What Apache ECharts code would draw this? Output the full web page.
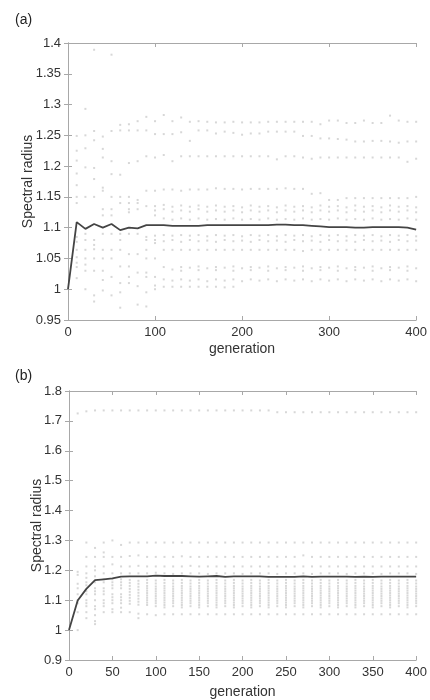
<!DOCTYPE html>
<html>
<head>
<meta charset="utf-8">
<script src="https://cdn.jsdelivr.net/npm/echarts@6/dist/echarts.min.js"></script>
<style>
html,body{margin:0;padding:0;background:#fff;}
#chart{width:430px;height:700px;}
</style>
</head>
<body>
<div id="chart"></div>
<script>
// generations at which population dots are drawn
const dotGens = [10,20,30,40,50,60,70,80,90,100,110,120,130,140,150,160,170,180,190,200,
                 210,220,230,240,250,260,270,280,290,300,310,320,330,340,350,360,370,380,390,400];
// mean line generations
const lineGens = [0,10,20,30,40,50,60,70,80,90,100,110,120,130,140,150,160,170,180,190,200,
                  210,220,230,240,250,260,270,280,290,300,310,320,330,340,350,360,370,380,390,400];
// panel (a) mean spectral radius
const lineA = [1.0,1.109,1.098,1.106,1.100,1.106,1.096,1.100,1.099,1.104,1.104,1.104,1.103,1.103,1.103,1.103,1.104,1.104,1.104,1.104,1.104,
               1.104,1.104,1.104,1.105,1.105,1.104,1.104,1.103,1.102,1.101,1.101,1.101,1.100,1.100,1.101,1.101,1.101,1.101,1.100,1.097];
// panel (b) mean spectral radius
const lineB = [1.0,1.099,1.138,1.167,1.170,1.173,1.179,1.180,1.180,1.180,1.182,1.181,1.181,1.181,1.180,1.179,1.180,1.181,1.178,1.180,1.180,
               1.180,1.180,1.178,1.178,1.178,1.178,1.180,1.178,1.179,1.179,1.179,1.179,1.178,1.179,1.178,1.179,1.179,1.179,1.179,1.179];
// panel (a) population values per generation (same order as dotGens)
const dotsA = [
 [1.249,1.225,1.209,1.188,1.169,1.15,1.14,1.085,1.077,1.064,1.052,1.043,1.036,1.018],
 [1.293,1.25,1.229,1.198,1.15,1.09,1.08,1.064,1.05,1.04,1.03,1.0],
 [1.389,1.257,1.242,1.197,1.179,1.15,1.08,1.072,1.065,1.05,1.03,0.99,0.98],
 [1.248,1.228,1.214,1.165,1.16,1.13,1.12,1.09,1.064,1.05,1.03,1.015,0.998],
 [1.381,1.257,1.208,1.187,1.15,1.13,1.12,1.09,1.064,1.05,1.02,0.99],
 [1.267,1.258,1.186,1.15,1.14,1.09,1.08,1.064,1.037,1.01,0.995,0.97],
 [1.268,1.258,1.205,1.15,1.14,1.13,1.125,1.09,1.057,1.037,1.02,1.01],
 [1.273,1.258,1.208,1.145,1.14,1.13,1.09,1.057,1.027,1.005,0.975],
 [1.28,1.258,1.216,1.16,1.135,1.085,1.08,1.064,1.05,1.027,1.02,0.995,0.972],
 [1.273,1.252,1.214,1.16,1.135,1.128,1.12,1.087,1.08,1.075,1.05,1.02,1.006,1.0],
 [1.283,1.252,1.218,1.162,1.137,1.13,1.115,1.088,1.078,1.064,1.036,1.016,1.004],
 [1.273,1.252,1.208,1.162,1.134,1.126,1.113,1.087,1.08,1.064,1.032,1.014,1.004],
 [1.279,1.255,1.216,1.16,1.136,1.128,1.115,1.088,1.077,1.064,1.036,1.03,1.016,1.004],
 [1.272,1.241,1.216,1.162,1.134,1.126,1.113,1.087,1.08,1.064,1.035,1.014,1.004],
 [1.273,1.258,1.216,1.162,1.136,1.13,1.115,1.088,1.078,1.064,1.037,1.031,1.016,1.004],
 [1.272,1.258,1.216,1.162,1.134,1.126,1.113,1.086,1.079,1.064,1.034,1.013,1.004],
 [1.271,1.253,1.216,1.164,1.136,1.128,1.114,1.088,1.077,1.064,1.036,1.031,1.016,1.004],
 [1.271,1.256,1.216,1.163,1.134,1.126,1.113,1.087,1.08,1.064,1.035,1.014,1.003],
 [1.272,1.254,1.216,1.163,1.135,1.128,1.115,1.088,1.078,1.064,1.037,1.03,1.016,1.004],
 [1.271,1.251,1.216,1.162,1.133,1.125,1.113,1.086,1.079,1.064,1.034,1.013],
 [1.271,1.253,1.216,1.163,1.136,1.128,1.114,1.088,1.077,1.064,1.036,1.031,1.016],
 [1.271,1.253,1.216,1.163,1.134,1.126,1.113,1.087,1.08,1.064,1.035,1.014],
 [1.272,1.256,1.216,1.163,1.135,1.128,1.115,1.088,1.078,1.064,1.037,1.03,1.016],
 [1.272,1.256,1.211,1.163,1.133,1.125,1.113,1.086,1.079,1.064,1.034,1.013],
 [1.272,1.256,1.216,1.164,1.136,1.128,1.114,1.088,1.077,1.064,1.036,1.031,1.016],
 [1.272,1.256,1.216,1.163,1.134,1.126,1.113,1.087,1.08,1.064,1.035,1.014],
 [1.272,1.249,1.214,1.163,1.135,1.128,1.115,1.088,1.078,1.062,1.037,1.03,1.016],
 [1.272,1.249,1.212,1.155,1.133,1.125,1.113,1.086,1.079,1.064,1.034,1.013],
 [1.268,1.245,1.214,1.156,1.136,1.128,1.114,1.088,1.077,1.064,1.036,1.031,1.016],
 [1.274,1.245,1.214,1.145,1.134,1.126,1.113,1.087,1.08,1.064,1.035,1.014],
 [1.274,1.244,1.214,1.145,1.135,1.128,1.115,1.088,1.078,1.064,1.037,1.03,1.016],
 [1.27,1.243,1.214,1.148,1.133,1.125,1.113,1.086,1.079,1.064,1.034,1.013],
 [1.27,1.24,1.214,1.148,1.136,1.128,1.114,1.088,1.077,1.064,1.036,1.031,1.016],
 [1.274,1.24,1.214,1.148,1.134,1.126,1.113,1.087,1.08,1.064,1.035,1.014],
 [1.27,1.241,1.214,1.148,1.135,1.128,1.115,1.088,1.078,1.064,1.037,1.03,1.016],
 [1.27,1.241,1.214,1.148,1.133,1.125,1.113,1.086,1.079,1.064,1.034,1.013],
 [1.282,1.24,1.214,1.148,1.136,1.128,1.114,1.088,1.077,1.064,1.036,1.031,1.016],
 [1.274,1.238,1.214,1.148,1.134,1.126,1.113,1.087,1.08,1.064,1.035,1.014],
 [1.272,1.24,1.207,1.148,1.135,1.128,1.115,1.088,1.078,1.064,1.037,1.03,1.016],
 [1.272,1.24,1.212,1.15,1.133,1.125,1.113,1.086,1.079,1.064,1.034,1.013]
];
// panel (b) population values per generation (same order as dotGens)
const dotsB = [
 [1.725,1.195,1.185,1.155,1.14,1.12,1.1,1.09,1.06,1.0],
 [1.732,1.293,1.245,1.213,1.19,1.175,1.16,1.15,1.13,1.12,1.1,1.09,1.08,1.06,1.04],
 [1.735,1.275,1.245,1.213,1.2,1.18,1.16,1.14,1.13,1.12,1.1,1.08,1.07,1.05,1.03,1.02],
 [1.735,1.293,1.26,1.245,1.213,1.19,1.17,1.16,1.14,1.13,1.12,1.1,1.09,1.08,1.06],
 [1.735,1.3,1.245,1.22,1.19,1.17,1.16,1.15,1.14,1.12,1.11,1.1,1.09,1.07,1.06],
 [1.735,1.285,1.245,1.213,1.19,1.17,1.16,1.15,1.14,1.12,1.11,1.1,1.09,1.075,1.06],
 [1.735,1.293,1.248,1.213,1.19,1.168,1.158,1.148,1.138,1.128,1.118,1.108,1.098,1.088,1.06],
 [1.735,1.293,1.25,1.215,1.19,1.165,1.155,1.145,1.135,1.125,1.115,1.105,1.095,1.085,1.055,1.04],
 [1.735,1.293,1.245,1.213,1.19,1.168,1.158,1.148,1.14,1.132,1.124,1.116,1.108,1.1,1.092,1.084,1.053],
 [1.735,1.293,1.245,1.213,1.192,1.166,1.156,1.146,1.138,1.13,1.122,1.114,1.106,1.098,1.09,1.08,1.05],
 [1.735,1.293,1.245,1.213,1.19,1.168,1.158,1.148,1.14,1.132,1.124,1.116,1.108,1.1,1.092,1.084,1.076,1.053],
 [1.735,1.293,1.245,1.213,1.188,1.166,1.156,1.146,1.138,1.13,1.122,1.114,1.106,1.098,1.09,1.08,1.053],
 [1.735,1.293,1.247,1.213,1.19,1.168,1.158,1.148,1.14,1.132,1.124,1.116,1.108,1.1,1.092,1.084,1.076,1.053],
 [1.735,1.293,1.245,1.215,1.19,1.166,1.156,1.146,1.138,1.13,1.122,1.114,1.106,1.098,1.09,1.08,1.053],
 [1.735,1.293,1.245,1.213,1.19,1.168,1.158,1.148,1.14,1.132,1.124,1.116,1.108,1.1,1.092,1.084,1.076,1.053],
 [1.735,1.293,1.245,1.213,1.188,1.166,1.156,1.146,1.138,1.13,1.122,1.114,1.106,1.098,1.09,1.08,1.053],
 [1.735,1.293,1.245,1.213,1.19,1.168,1.158,1.148,1.14,1.132,1.124,1.116,1.108,1.1,1.092,1.084,1.076,1.053],
 [1.735,1.293,1.245,1.213,1.19,1.166,1.156,1.146,1.138,1.13,1.122,1.114,1.106,1.098,1.09,1.08,1.053],
 [1.735,1.293,1.245,1.213,1.19,1.168,1.158,1.148,1.14,1.132,1.124,1.116,1.108,1.1,1.092,1.084,1.076,1.053],
 [1.735,1.293,1.245,1.213,1.188,1.166,1.156,1.146,1.138,1.13,1.122,1.114,1.106,1.098,1.09,1.08,1.053],
 [1.735,1.293,1.245,1.213,1.19,1.168,1.158,1.148,1.14,1.132,1.124,1.116,1.108,1.1,1.092,1.084,1.076,1.053],
 [1.735,1.293,1.245,1.213,1.19,1.166,1.156,1.146,1.138,1.13,1.122,1.114,1.106,1.098,1.09,1.08,1.053],
 [1.735,1.293,1.245,1.213,1.19,1.168,1.158,1.148,1.14,1.132,1.124,1.116,1.108,1.1,1.092,1.084,1.076,1.053],
 [1.729,1.293,1.245,1.213,1.188,1.166,1.156,1.146,1.138,1.13,1.122,1.114,1.106,1.098,1.09,1.08,1.053],
 [1.729,1.293,1.245,1.213,1.19,1.168,1.158,1.148,1.14,1.132,1.124,1.116,1.108,1.1,1.092,1.084,1.076,1.053],
 [1.729,1.293,1.245,1.213,1.19,1.166,1.156,1.146,1.138,1.13,1.122,1.114,1.106,1.098,1.09,1.08,1.053],
 [1.729,1.293,1.25,1.213,1.19,1.168,1.158,1.148,1.14,1.132,1.124,1.116,1.108,1.1,1.092,1.084,1.076,1.053],
 [1.729,1.293,1.245,1.213,1.188,1.166,1.156,1.146,1.138,1.13,1.122,1.114,1.106,1.098,1.09,1.08,1.053],
 [1.729,1.293,1.245,1.213,1.19,1.168,1.158,1.148,1.14,1.132,1.124,1.116,1.108,1.1,1.092,1.084,1.076,1.053],
 [1.729,1.293,1.245,1.213,1.19,1.166,1.156,1.146,1.138,1.13,1.122,1.114,1.106,1.098,1.09,1.08,1.053],
 [1.729,1.293,1.245,1.213,1.19,1.168,1.158,1.148,1.14,1.132,1.124,1.116,1.108,1.1,1.092,1.084,1.076,1.053],
 [1.729,1.293,1.245,1.213,1.188,1.166,1.156,1.146,1.138,1.13,1.122,1.114,1.106,1.098,1.09,1.08,1.053],
 [1.729,1.293,1.245,1.213,1.19,1.168,1.158,1.148,1.14,1.132,1.124,1.116,1.108,1.1,1.092,1.084,1.076,1.053],
 [1.729,1.293,1.245,1.213,1.19,1.166,1.156,1.146,1.138,1.13,1.122,1.114,1.106,1.098,1.09,1.08,1.053],
 [1.729,1.293,1.245,1.213,1.19,1.168,1.158,1.148,1.14,1.132,1.124,1.116,1.108,1.1,1.092,1.084,1.076,1.053],
 [1.729,1.293,1.245,1.213,1.188,1.166,1.156,1.146,1.138,1.13,1.122,1.114,1.106,1.098,1.09,1.08,1.053],
 [1.729,1.293,1.245,1.213,1.19,1.168,1.158,1.148,1.14,1.132,1.124,1.116,1.108,1.1,1.092,1.084,1.076,1.053],
 [1.729,1.293,1.245,1.213,1.19,1.166,1.156,1.146,1.138,1.13,1.122,1.114,1.106,1.098,1.09,1.08,1.053],
 [1.729,1.293,1.245,1.213,1.19,1.168,1.158,1.148,1.14,1.132,1.124,1.116,1.108,1.1,1.092,1.084,1.076,1.053],
 [1.729,1.293,1.245,1.213,1.188,1.166,1.156,1.146,1.138,1.13,1.122,1.114,1.106,1.098,1.09,1.08,1.053]
];
// axis ticks
const xTicksA = {min:0, max:400, interval:100};
const yTicksA = {min:0.95, max:1.4, interval:0.05};
const xTicksB = {min:0, max:400, interval:50};
const yTicksB = {min:0.9, max:1.8, interval:0.1};

function toPoints(gens, rows){
  const out = [];
  gens.forEach((g,i)=>rows[i].forEach(v=>out.push([g,v])));
  return out;
}
function toLine(gens, vals){ return gens.map((g,i)=>[g,vals[i]]); }

const FONT = 'Liberation Sans, Arial, Helvetica, sans-serif';
const AXC = '#a8a8a8';
const LBL = '#333';

function mainX(grid, t, gap){
  return {type:'value', gridIndex:grid, min:t.min, max:t.max, interval:t.interval, position:'bottom',
    name:'generation', nameLocation:'middle', nameGap:gap, nameMoveOverlap:false,
    nameTextStyle:{color:LBL, fontSize:14, fontFamily:FONT},
    axisLine:{show:true, lineStyle:{color:AXC, width:1}},
    axisTick:{show:true, inside:true, length:4, lineStyle:{color:AXC}},
    axisLabel:{color:LBL, fontSize:13, fontFamily:FONT, margin:6},
    splitLine:{show:false}};
}
function topX(grid, t){
  return {type:'value', gridIndex:grid, min:t.min, max:t.max, interval:t.interval, position:'top',
    axisLine:{show:true, lineStyle:{color:AXC, width:1}},
    axisTick:{show:true, inside:true, length:4, lineStyle:{color:AXC}},
    axisLabel:{show:false}, splitLine:{show:false}};
}
function mainY(grid, t, gap){
  return {type:'value', gridIndex:grid, min:t.min, max:t.max, interval:t.interval, position:'left',
    name:'Spectral radius', nameLocation:'middle', nameGap:gap, nameRotate:90, nameMoveOverlap:false,
    nameTextStyle:{color:LBL, fontSize:14, fontFamily:FONT},
    axisLine:{show:true, lineStyle:{color:AXC, width:1}},
    axisTick:{show:true, inside:true, length:4, lineStyle:{color:AXC}},
    axisLabel:{color:LBL, fontSize:13, fontFamily:FONT, margin:7,
      formatter:v=>String(parseFloat(v.toFixed(2)))},
    splitLine:{show:false}};
}
function rightY(grid, t){
  return {type:'value', gridIndex:grid, min:t.min, max:t.max, interval:t.interval, position:'right',
    axisLine:{show:true, lineStyle:{color:AXC, width:1}},
    axisTick:{show:true, inside:true, length:4, lineStyle:{color:AXC}},
    axisLabel:{show:false}, splitLine:{show:false}};
}

const dotStyle = {color:'#cdcdcd'};
const lineStyle = {color:'#444', width:1.8};

const option = {
  animation:false,
  backgroundColor:'#fff',
  title:[
    {text:'(a)', left:10, top:8, textStyle:{fontSize:14, fontWeight:'normal', color:'#222', fontFamily:FONT}},
    {text:'(b)', left:10, top:364, textStyle:{fontSize:14, fontWeight:'normal', color:'#222', fontFamily:FONT}}
  ],
  grid:[
    {left:68, top:43, width:350, height:277},
    {left:69, top:391, width:351, height:276}
  ],
  xAxis:[mainX(0,xTicksA,22), topX(0,xTicksA), mainX(1,xTicksB,25), topX(1,xTicksB)],
  yAxis:[mainY(0,yTicksA,33), rightY(0,yTicksA), mainY(1,yTicksB,25), rightY(1,yTicksB)],
  series:[
    {type:'scatter', xAxisIndex:0, yAxisIndex:0, data:toPoints(dotGens,dotsA), symbol:'rect', symbolSize:2, itemStyle:dotStyle, silent:true, z:1},
    {type:'line', xAxisIndex:0, yAxisIndex:0, data:toLine(lineGens,lineA), showSymbol:false, lineStyle:lineStyle, z:3},
    {type:'scatter', xAxisIndex:2, yAxisIndex:2, data:toPoints(dotGens,dotsB), symbol:'rect', symbolSize:2, itemStyle:dotStyle, silent:true, z:1},
    {type:'line', xAxisIndex:2, yAxisIndex:2, data:toLine(lineGens,lineB), showSymbol:false, lineStyle:lineStyle, z:3}
  ]
};
const chart = echarts.init(document.getElementById('chart'), null, {renderer:'canvas'});
chart.setOption(option);
</script>
</body>
</html>
